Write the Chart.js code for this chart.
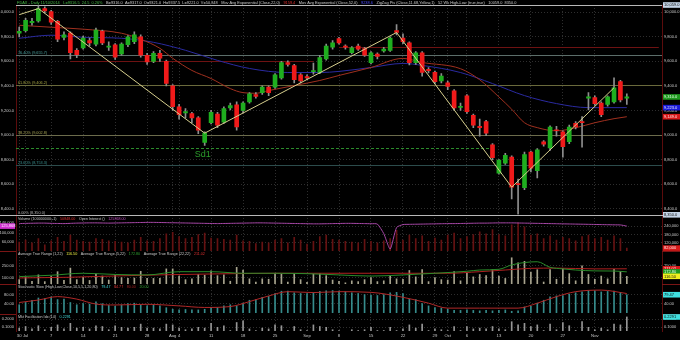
<!DOCTYPE html>
<html>
<head>
<meta charset="utf-8">
<title>FDAX daily</title>
<script src="https://cdn.jsdelivr.net/npm/chart.js@4.4.1/dist/chart.umd.min.js"></script>
<style>
  html, body { margin: 0; padding: 0; background: #000; }
  #wrap { width: 680px; height: 340px; position: relative; }
</style>
</head>
<body>
<div id="wrap"><canvas id="myChart"></canvas></div>
<script>
// Time axis: 96 trading days, 30 Jun - 10 Nov, plus empty room on the right

const slotCount = 101;
const tickIdx = [0, 1, 5, 10, 15, 20, 24, 25, 30, 35, 40, 45, 50, 55, 60, 65, 67, 70, 75, 80, 85, 90];
const tickText = ["30", "Jul", "7", "14", "21", "28", "Aug", "4", "11", "18", "25", "Sep", "8", "15", "22", "29", "Oct", "6", "13", "20", "27", "Nov"];

// Candles

const openP = [9830, 9850, 9915, 9930, 10030, 10005, 9925, 9795, 9830, 9690,
  9710, 9770, 9740, 9845, 9715, 9735, 9660, 9735, 9760, 9800,
  9650, 9600, 9665, 9600, 9400, 9230, 9180, 9175, 9140, 8940,
  9100, 9170, 9105, 9220, 9245, 9200, 9270, 9330, 9345, 9390,
  9390, 9465, 9590, 9565, 9490, 9475, 9515, 9510, 9620, 9715,
  9785, 9725, 9670, 9725, 9705, 9590, 9660, 9685, 9690, 9850,
  9790, 9750, 9590, 9670, 9535, 9510, 9440, 9425, 9360, 9225,
  9320, 9160, 9070, 9110, 8920, 8690, 8770, 8820, 8605, 8570,
  8860, 8710, 8945, 8895, 9040, 9025, 8945, 9095, 9110, 9300,
  9305, 9260, 9250, 9270, 9435, 9300];
const highP = [9880, 9950, 9950, 10055, 10045, 10015, 9935, 9840, 9840, 9705,
  9805, 9790, 9870, 9855, 9760, 9745, 9750, 9810, 9840, 9815,
  9665, 9680, 9690, 9610, 9410, 9250, 9215, 9185, 9150, 9025,
  9200, 9185, 9230, 9260, 9270, 9270, 9345, 9345, 9400, 9400,
  9500, 9600, 9605, 9575, 9500, 9490, 9585, 9650, 9740, 9770,
  9795, 9735, 9720, 9740, 9715, 9680, 9670, 9715, 9800, 9900,
  9825, 9760, 9680, 9680, 9550, 9520, 9500, 9440, 9370, 9260,
  9330, 9170, 9130, 9120, 8930, 8800, 8850, 8830, 8640, 8860,
  8870, 8890, 8955, 9075, 9070, 9035, 9080, 9110, 9150, 9345,
  9320, 9270, 9320, 9465, 9445, 9335];
const lowP = [9800, 9840, 9895, 9920, 9995, 9900, 9760, 9775, 9620, 9630,
  9700, 9725, 9725, 9735, 9690, 9615, 9650, 9720, 9745, 9635,
  9575, 9590, 9600, 9400, 9200, 9130, 9140, 9100, 9010, 8915,
  9090, 9060, 9095, 9205, 9040, 9180, 9260, 9300, 9330, 9320,
  9380, 9455, 9560, 9425, 9425, 9450, 9495, 9500, 9610, 9700,
  9740, 9700, 9660, 9690, 9640, 9580, 9620, 9675, 9680, 9815,
  9745, 9570, 9575, 9480, 9505, 9420, 9425, 9370, 9200, 9200,
  9175, 9060, 8990, 8995, 8800, 8680, 8760, 8480, 8355, 8555,
  8700, 8650, 8910, 8875, 8990, 8820, 8930, 9050, 8900, 9205,
  9240, 9150, 9235, 9260, 9270, 9250];
const closeP = [9845, 9935, 9925, 10030, 10010, 9920, 9780, 9815, 9670, 9655,
  9790, 9750, 9855, 9750, 9725, 9635, 9740, 9800, 9815, 9650,
  9595, 9665, 9625, 9420, 9230, 9165, 9190, 9140, 9040, 9015,
  9185, 9080, 9215, 9240, 9065, 9260, 9335, 9315, 9390, 9345,
  9490, 9590, 9575, 9450, 9440, 9465, 9525, 9630, 9725, 9750,
  9750, 9715, 9710, 9700, 9650, 9670, 9640, 9700, 9790, 9835,
  9760, 9590, 9670, 9510, 9525, 9435, 9480, 9395, 9220, 9230,
  9190, 9080, 9060, 9015, 8815, 8795, 8835, 8575, 8595, 8840,
  8730, 8880, 8925, 9065, 9035, 8905, 9065, 9065, 9100, 9310,
  9255, 9165, 9310, 9385, 9285, 9310];

// Overlays on the price panel (read at the bars listed)

const ema22Idx = [0, 5, 10, 16, 19, 22, 24, 27, 30, 33, 35, 37, 39, 43, 47, 50, 55, 60, 63, 69, 72, 75, 77, 79, 81, 84, 87, 90, 93, 95];
const ema22Val = [9894, 9878, 9862, 9829, 9780, 9706, 9625, 9526, 9460, 9378, 9345, 9340, 9362, 9403, 9444, 9485, 9550, 9624, 9591, 9540, 9450, 9310, 9210, 9100, 9060, 9034, 9059, 9100, 9133, 9149];
const ema52Idx = [0, 5, 10, 16, 21, 26, 31, 36, 42, 47, 50, 55, 60, 63, 69, 74, 79, 84, 89, 95];
const ema52Val = [9788, 9813, 9796, 9788, 9755, 9690, 9608, 9542, 9509, 9509, 9518, 9550, 9583, 9567, 9509, 9419, 9321, 9256, 9223, 9223];
const zigIdx = [0, 3, 29, 59, 77, 93];
const zigVal = [9980, 10030, 9015, 9835, 8575, 9385];

const fibLevels = [9655.7, 9406.2, 9002.8, 8753.3, 8350.0];
const fibNames = ["76.40% (9,655.7)", "61.80% (9,406.2)", "38.20% (9,002.8)", "23.60% (8,753.3)", "0.00% (8,350.0)"];
const yearHigh = 10059.0;
const yearLow = 8350.0;
const resLevels = [9600, 9720];
const resFrom = [8, 50];
const resTo = [46, 100];
const sd1Level = 8895;
const sd1To = 74;
const sd1LabelAt = 29;

// Lower panels

const volume = [125000, 140000, 120000, 150000, 105000, 135000, 160000, 130000, 175000, 140000,
  130000, 125000, 150000, 145000, 135000, 130000, 125000, 120000, 140000, 160000,
  135000, 130000, 150000, 185000, 195000, 165000, 150000, 160000, 180000, 190000,
  155000, 150000, 145000, 140000, 175000, 135000, 130000, 115000, 125000, 120000,
  140000, 150000, 120000, 160000, 140000, 110000, 130000, 165000, 175000, 145000,
  140000, 130000, 125000, 120000, 145000, 130000, 120000, 135000, 150000, 210000,
  140000, 175000, 150000, 170000, 130000, 155000, 140000, 175000, 190000, 150000,
  165000, 180000, 200000, 185000, 215000, 180000, 170000, 250000, 265000, 235000,
  175000, 185000, 150000, 170000, 140000, 160000, 150000, 135000, 165000, 175000,
  150000, 160000, 140000, 170000, 150000, 82000];
const openInt = [136000, 137000, 137500, 138000, 138000, 137000, 136500, 136000, 137000, 138000,
  138500, 139000, 139000, 138500, 138000, 138500, 139000, 139500, 140000, 140500,
  141000, 141000, 140500, 140000, 139500, 139000, 138500, 138000, 137500, 137000,
  136500, 136000, 136500, 137000, 137500, 138000, 138500, 139000, 139000, 138500,
  138000, 137500, 137000, 136500, 136000, 135500, 135000, 135000, 135500, 136000,
  136500, 137000, 137000, 136500, 136000, 135500, 134000, 95000, 32000, 120000,
  132000, 133000, 133500, 134000, 134500, 135000, 135500, 136000, 136000, 136500,
  137000, 137500, 138000, 138000, 138500, 139000, 139000, 139000, 138500, 138000,
  137500, 137000, 136500, 136000, 135500, 135000, 134500, 134000, 133500, 133000,
  132500, 132000, 131500, 131000, 130500, 125868];

const trueRange = [75, 110, 55, 135, 50, 115, 175, 65, 220, 75,
  105, 65, 145, 120, 70, 130, 100, 90, 95, 180,
  90, 90, 90, 210, 210, 120, 75, 85, 140, 130,
  185, 125, 135, 55, 230, 195, 85, 45, 85, 80,
  155, 145, 45, 150, 75, 40, 145, 150, 125, 70,
  55, 35, 60, 50, 75, 100, 50, 60, 120, 85,
  80, 190, 110, 200, 50, 100, 75, 70, 175, 60,
  155, 110, 140, 125, 200, 120, 90, 350, 285, 305,
  170, 200, 45, 200, 80, 215, 150, 60, 250, 140,
  80, 120, 85, 205, 175, 116.5];
const atr5Idx = [0, 5, 10, 15, 20, 25, 30, 35, 40, 45, 50, 55, 60, 65, 70, 72, 75, 77, 79, 81, 83, 85, 87, 90, 93, 95];
const atr5Val = [113, 130, 155, 140, 134, 175, 175, 155, 155, 150, 134, 120, 134, 155, 180, 196, 205, 260, 290, 300, 230, 210, 196, 185, 183, 172.8];
const atr22Idx = [0, 8, 15, 22, 30, 40, 50, 60, 67, 72, 76, 80, 84, 90, 95];
const atr22Val = [96, 105, 121, 135, 146, 155, 155, 155, 155, 175, 196, 217, 220, 210, 211.02];

const stochK = [35, 45, 55, 65, 62, 70, 58, 60, 45, 35,
  40, 38, 48, 40, 32, 28, 34, 40, 42, 33,
  30, 34, 30, 22, 15, 12, 14, 13, 12, 15,
  24, 22, 30, 35, 30, 42, 55, 58, 68, 72,
  85, 95, 96, 88, 85, 84, 88, 94, 97, 98,
  96, 92, 88, 85, 80, 78, 76, 80, 88, 90,
  85, 60, 58, 40, 30, 22, 20, 15, 10, 10,
  12, 10, 8, 10, 8, 10, 12, 6, 8, 25,
  28, 42, 55, 70, 74, 76, 82, 88, 92, 98,
  97, 92, 94, 96, 90, 79.47];
const stochDIdx = [0, 3, 6, 9, 12, 15, 20, 25, 29, 33, 36, 39, 42, 46, 50, 55, 60, 64, 67, 72, 78, 81, 84, 87, 91, 95];
const stochDVal = [45, 56, 71, 60, 38, 34, 37, 30, 23, 27, 49, 74, 93, 89, 93, 90, 68, 42, 20, 20, 20, 42, 71, 93, 100, 84.77];

const mfi = [0.09, 0.11, 0.08, 0.12, 0.07, 0.10, 0.13, 0.08, 0.15, 0.09,
  0.10, 0.08, 0.12, 0.11, 0.07, 0.12, 0.10, 0.09, 0.10, 0.14,
  0.09, 0.09, 0.08, 0.14, 0.13, 0.09, 0.07, 0.08, 0.10, 0.09,
  0.15, 0.10, 0.12, 0.06, 0.16, 0.18, 0.08, 0.06, 0.09, 0.08,
  0.13, 0.12, 0.06, 0.11, 0.07, 0.06, 0.13, 0.11, 0.10, 0.07,
  0.06, 0.05, 0.07, 0.06, 0.07, 0.10, 0.06, 0.06, 0.10, 0.06,
  0.08, 0.13, 0.09, 0.14, 0.06, 0.08, 0.07, 0.06, 0.11, 0.06,
  0.11, 0.08, 0.09, 0.08, 0.11, 0.08, 0.07, 0.17, 0.13, 0.15,
  0.11, 0.13, 0.06, 0.14, 0.07, 0.16, 0.12, 0.06, 0.17, 0.10,
  0.07, 0.09, 0.07, 0.14, 0.13, 0.2291];

// Axis ticks

const priceTicks = [8400, 8600, 8800, 9000, 9200, 9400, 9600, 9800, 10000];
const volTicks = [120000, 180000, 240000];
const oiTicks = [60000, 100000, 140000];
const atrTicks = [100, 250];
const stoTicks = [40, 80];
const mfiTicks = [0.1, 0.2];

// Helpers

function sparse(idx, val) {
  let arr = [];
  for (let i = 0; i < closeP.length; i++) arr.push(null);
  idx.forEach((k, n) => { arr[k] = val[n]; });
  return arr;
}

let dayLabels = [];
for (let i = 0; i < slotCount; i++) dayLabels.push("");
tickIdx.forEach((k, n) => { dayLabels[k] = tickText[n]; });

const fmtPrice = v => v.toLocaleString("en-US", { minimumFractionDigits: 1, maximumFractionDigits: 1 });
const fmtInt = v => Math.round(v).toLocaleString("en-US");
const fmt2 = v => v.toFixed(2);
const fmt4 = v => v.toFixed(4);

const upColor = "#1fae1f";
const downColor = "#f01a1a";
const candleColors = closeP.map((c, i) => (c > openP[i] ? upColor : c < openP[i] ? downColor : "#9a9a9a"));
const bodies = openP.map((o, i) => [o, closeP[i]]);
const wicks = lowP.map((l, i) => [l, highP[i]]);

const textColor = "#c8c8c8";
const axisRed = "#5c0c0c";
const gridColor = "#2e2e2e";
const fontFamily = "'Liberation Sans', Arial, sans-serif";
Chart.defaults.font.family = fontFamily;

// Y axes: right stack carries grid, left stack mirrors labels

function yAxis(pos, weight, stackWeight, min, max, ticks, fmt) {
  return {
    type: "linear",
    position: pos,
    stack: pos,
    weight: weight,
    stackWeight: stackWeight,
    min: min,
    max: max,
    afterBuildTicks: scale => { scale.ticks = ticks.map(v => ({ value: v })); },
    afterFit: scale => { scale.width = pos === "right" ? 18 : 16; },
    grid: { display: pos === "right", color: gridColor, drawTicks: false },
    border: { display: true, color: axisRed, dash: [1, 2] },
    ticks: { color: textColor, font: { size: 4 }, padding: 2, callback: fmt },
  };
}

// Extra drawing: fib levels, support, texts and value boxes

function drawSegments(ctx, segs, x, y) {
  segs.forEach(s => {
    ctx.fillStyle = s[1];
    ctx.fillText(s[0], x, y);
    x += ctx.measureText(s[0]).width + 3.5;
  });
}

function valueBox(chart, scaleId, value, label, bg, fg, side) {
  const { ctx, chartArea, width } = chart;
  const y = chart.scales[scaleId].getPixelForValue(value);
  const x0 = side === "right" ? chartArea.right + 1 : 0;
  const x1 = side === "right" ? width : chartArea.left - 1;
  ctx.fillStyle = bg;
  ctx.fillRect(x0, y - 2.8, x1 - x0, 5.6);
  ctx.fillStyle = fg;
  ctx.font = "4px " + fontFamily;
  ctx.textBaseline = "middle";
  ctx.textAlign = "left";
  ctx.fillText(label, x0 + 1, y + 0.3);
}

const fibLineColors = ["#5c6e6a", "#6a6a3c", "#6c6c4c", "#2c4c4c", "#b8b8b8"];
const fibTextColors = ["#4aa3a0", "#a6a444", "#a6a456", "#3a9290", "#b0b0b0"];

const decor = {
  id: "decor",
  beforeDatasetsDraw(chart) {
    const { ctx, chartArea } = chart;
    const yP = chart.scales.price;
    const xS = chart.scales.x;
    ctx.save();
    ctx.lineWidth = 1;
    // fibonacci levels
    fibLevels.forEach((lv, k) => {
      const y = Math.round(yP.getPixelForValue(lv)) + 0.5;
      ctx.strokeStyle = fibLineColors[k];
      ctx.beginPath();
      ctx.moveTo(k === 4 ? 0 : chartArea.left, y);
      ctx.lineTo(k === 4 ? chart.width : chartArea.right, y);
      ctx.stroke();
      ctx.fillStyle = fibTextColors[k];
      ctx.font = "3.8px " + fontFamily;
      ctx.textBaseline = "bottom";
      ctx.fillText(fibNames[k], chartArea.left + 2, y - 1);
    });
    // 52 week high line
    let yh = Math.round(yP.getPixelForValue(yearHigh)) + 0.5;
    ctx.strokeStyle = "#b8b8b8";
    ctx.beginPath();
    ctx.moveTo(chartArea.left, yh);
    ctx.lineTo(chartArea.right, yh);
    ctx.stroke();
    // resistance lines
    ctx.strokeStyle = "#6e1212";
    resLevels.forEach((lv, k) => {
      const y = Math.round(yP.getPixelForValue(lv)) + 0.5;
      const xa = xS.getPixelForValue(resFrom[k]);
      const xb = Math.min(xS.getPixelForValue(resTo[k]), chartArea.right);
      ctx.beginPath();
      ctx.moveTo(xa, y);
      ctx.lineTo(xb, y);
      ctx.stroke();
    });
    // Sd1 support
    const ys = Math.round(yP.getPixelForValue(sd1Level)) + 0.5;
    ctx.strokeStyle = "#2c8c2c";
    ctx.setLineDash([3, 2]);
    ctx.beginPath();
    ctx.moveTo(chartArea.left, ys);
    ctx.lineTo(xS.getPixelForValue(sd1To), ys);
    ctx.stroke();
    ctx.setLineDash([]);
    ctx.fillStyle = "#2c9c2c";
    ctx.font = "9px " + fontFamily;
    ctx.textAlign = "center";
    ctx.textBaseline = "top";
    ctx.fillText("Sd1", xS.getPixelForValue(sd1LabelAt) - 2, ys + 1.5);
    ctx.restore();
  },
  afterDraw(chart) {
    const { ctx, chartArea, width } = chart;
    ctx.save();
    ctx.textAlign = "left";
    ctx.textBaseline = "middle";
    ctx.font = "3.9px " + fontFamily;
    // header line
    drawSegments(ctx, [
      ["FDAX - Daily 11/10/2014", "#45b845"],
      ["L=9316.5  24.5  0.26%", "#45b845"],
      ["B=9316.0  A=9317.0  O=9321.0  H=9337.5  L=9221.0  V=50,848", textColor],
      ["Mov Avg Exponential (Close,22,0)", textColor],
      ["9159.4", "#e03030"],
      ["Mov Avg Exponential (Close,52,0)", textColor],
      ["9238.6", "#4a4aff"],
      ["ZigZag Pts (Close,11.68,Yellow,1)", textColor],
      ["52 Wk High-Low (true,true)", textColor],
      ["10059.0  8350.0", textColor],
    ], chartArea.left + 1, 2.6);
    // panel titles
    ctx.font = "3.7px " + fontFamily;
    const x0 = chartArea.left + 2;
    drawSegments(ctx, [
      ["Volume (100000000,-1)", textColor], ["50848.00", "#e03030"],
      ["Open Interest ()", textColor], ["125868.00", "#c050c0"],
    ], x0, chart.scales.vol.top + 4.5);
    drawSegments(ctx, [
      ["Average True Range (1,22)", textColor], ["116.50", "#e8e840"],
      ["Average True Range (5,22)", textColor], ["172.80", "#30a030"],
      ["Average True Range (22,22)", textColor], ["211.02", "#e03030"],
    ], x0, chart.scales.atr.top + 2.5);
    drawSegments(ctx, [
      ["Stochastic Slow (High,Low,Close,10,5,5,1,20,80)", textColor], ["79.47", "#40d8d8"],
      ["84.77", "#e03030"], ["80.00", "#a02020"], ["20.00", "#30a030"],
    ], x0, chart.scales.sto.top + 2.5);
    drawSegments(ctx, [
      ["Mkt Facilitation Idx (14)", textColor], ["0.2291", "#40d8d8"],
    ], x0, chart.scales.mfi.top + 3);
    // separators in the axis columns
    ctx.strokeStyle = "#7a1515";
    ctx.lineWidth = 1;
    ["atr", "sto", "mfi"].forEach(id => {
      const y = Math.round(chart.scales[id].top) + 0.5;
      ctx.beginPath();
      ctx.moveTo(0, y);
      ctx.lineTo(chartArea.left, y);
      ctx.moveTo(chartArea.right, y);
      ctx.lineTo(width, y);
      ctx.stroke();
    });
    // value boxes
    const last = closeP.length - 1;
    valueBox(chart, "price", yearHigh, fmtPrice(yearHigh), "#c4d4e6", "#101010", "right");
    valueBox(chart, "price", yearLow, fmtPrice(yearLow), "#c4d4e6", "#101010", "right");
    valueBox(chart, "price", closeP[last], fmtPrice(closeP[last]), "#1f9a1f", "#e8ffe8", "right");
    valueBox(chart, "price", ema52Val[ema52Val.length - 1], fmtPrice(ema52Val[ema52Val.length - 1]), "#1a1ad8", "#e8e8ff", "right");
    valueBox(chart, "price", ema22Val[ema22Val.length - 1], fmtPrice(ema22Val[ema22Val.length - 1]), "#d81a1a", "#ffe8e8", "right");
    valueBox(chart, "vol", volume[last], fmtInt(volume[last]), "#d81a1a", "#ffe8e8", "right");
    valueBox(chart, "oi", openInt[last], fmtInt(openInt[last]), "#d030d0", "#ffe8ff", "left");
    valueBox(chart, "atr", atr22Val[atr22Val.length - 1], fmt2(atr22Val[atr22Val.length - 1]), "#d81a1a", "#ffe8e8", "right");
    valueBox(chart, "atr", atr5Val[atr5Val.length - 1], fmt2(atr5Val[atr5Val.length - 1]), "#1f9a1f", "#e8ffe8", "right");
    valueBox(chart, "atr", trueRange[last], fmt2(trueRange[last]), "#f0f020", "#101010", "right");
    valueBox(chart, "sto", stochK[last], fmt2(stochK[last]), "#40e0e0", "#101010", "right");
    valueBox(chart, "mfi", mfi[last], fmt4(mfi[last]), "#40e0e0", "#101010", "right");
    ctx.restore();
  },
};

// Chart

const data = {
  labels: dayLabels,
  datasets: [
    { type: "line", label: "ZigZag", data: sparse(zigIdx, zigVal), yAxisID: "price", order: 0,
      borderColor: "#d6cf8e", borderWidth: 1, pointRadius: 0, spanGaps: true, tension: 0 },
    { type: "bar", label: "Body", data: bodies, yAxisID: "price", order: 1,
      backgroundColor: candleColors, barThickness: 4, grouped: false, minBarLength: 1 },
    { type: "bar", label: "Wick", data: wicks, yAxisID: "price", order: 2,
      backgroundColor: "#8e8e8e", barThickness: 1, grouped: false },
    { type: "line", label: "EMA 22", data: sparse(ema22Idx, ema22Val), yAxisID: "price", order: 3,
      borderColor: "#a0301f", borderWidth: 1, pointRadius: 0, spanGaps: true, cubicInterpolationMode: "monotone" },
    { type: "line", label: "EMA 52", data: sparse(ema52Idx, ema52Val), yAxisID: "price", order: 4,
      borderColor: "#2a2aa0", borderWidth: 1, pointRadius: 0, spanGaps: true, cubicInterpolationMode: "monotone" },
    { type: "bar", label: "Volume", data: volume, yAxisID: "vol", order: 5,
      backgroundColor: "#661212", barThickness: 1, grouped: false },
    { type: "line", label: "Open Interest", data: openInt, yAxisID: "oi", order: 4,
      borderColor: "#a848a8", borderWidth: 1, pointRadius: 0, tension: 0.2 },
    { type: "bar", label: "True Range", data: trueRange, yAxisID: "atr", order: 6,
      backgroundColor: "#a8a48e", barThickness: 1, grouped: false },
    { type: "line", label: "ATR 5", data: sparse(atr5Idx, atr5Val), yAxisID: "atr", order: 3,
      borderColor: "#2a8c2a", borderWidth: 1, pointRadius: 0, spanGaps: true, cubicInterpolationMode: "monotone" },
    { type: "line", label: "ATR 22", data: sparse(atr22Idx, atr22Val), yAxisID: "atr", order: 3,
      borderColor: "#b02020", borderWidth: 1, pointRadius: 0, spanGaps: true, cubicInterpolationMode: "monotone" },
    { type: "bar", label: "%K", data: stochK, yAxisID: "sto", order: 6,
      backgroundColor: "#368c8c", barThickness: 1, grouped: false },
    { type: "line", label: "%D", data: sparse(stochDIdx, stochDVal), yAxisID: "sto", order: 3,
      borderColor: "#b02828", borderWidth: 1, pointRadius: 0, spanGaps: true, cubicInterpolationMode: "monotone" },
    { type: "bar", label: "MFI", data: mfi, yAxisID: "mfi", order: 6,
      backgroundColor: "#969696", barThickness: 1, grouped: false },
  ],
};

const options = {
  responsive: true,
  maintainAspectRatio: false,
  devicePixelRatio: 1,
  animation: false,
  layout: { padding: { top: 5, right: 0, bottom: 0, left: 0 } },
  plugins: { legend: { display: false }, tooltip: { enabled: false } },
  scales: {
    x: {
      type: "category",
      offset: true,
      afterFit: scale => { scale.height = 9; },
      grid: {
        offset: false,
        drawTicks: false,
        color: c => (dayLabels[c.index] ? gridColor : "rgba(0,0,0,0)"),
      },
      border: { display: false, dash: [1, 2] },
      ticks: { autoSkip: false, maxRotation: 0, color: textColor, font: { size: 4.2 }, padding: 2 },
    },
    price: yAxis("right", 0, 209.8, yearLow, yearHigh, priceTicks, fmtPrice),
    vol: yAxis("right", 1, 36.2, 61000, 322000, volTicks, fmtInt),
    atr: yAxis("right", 2, 33, 20, 435, atrTicks, fmt2),
    sto: yAxis("right", 3, 30, -6, 127, stoTicks, fmt2),
    mfi: yAxis("right", 4, 17, 0.054, 0.266, mfiTicks, fmt4),
    priceL: yAxis("left", 4, 209.8, yearLow, yearHigh, priceTicks, fmtPrice),
    oi: yAxis("left", 3, 36.2, 24000, 172000, oiTicks, fmtInt),
    atrL: yAxis("left", 2, 33, 20, 435, atrTicks, fmt2),
    stoL: yAxis("left", 1, 30, -6, 127, stoTicks, fmt2),
    mfiL: yAxis("left", 0, 17, 0.054, 0.266, mfiTicks, fmt4),
  },
};

const ctx = document.getElementById("myChart").getContext("2d");
const chart = new Chart(ctx, {
  type: "bar",
  data: data,
  options: options,
  plugins: [decor],
});
</script>
</body>
</html>
